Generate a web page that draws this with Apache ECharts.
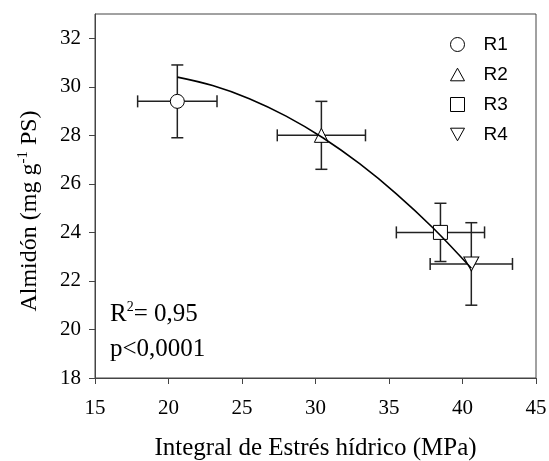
<!DOCTYPE html>
<html>
<head>
<meta charset="utf-8">
<script src="https://cdn.jsdelivr.net/npm/echarts@6/dist/echarts.min.js"></script>
<style>
    html, body { margin: 0; padding: 0; background: #fff; }
    #chart { width: 549px; height: 461px; }
</style>
</head>
<body>
<div id="chart"></div>
<script>
// 处理（R1-R4）的平均值与误差
var seriesNames = ['R1', 'R2', 'R3', 'R4'];
var stressX = [20.6, 30.4, 38.5, 40.6];   // Integral de Estrés hídrico (MPa)
var starchY = [29.4, 28.0, 24.0, 22.7];   // Almidón
var stressErr = [2.7, 3.0, 3.0, 2.8];
var starchErr = [1.5, 1.4, 1.2, 1.7];
var symbols = ['circle', 'triangle', 'rect', 'path://M0,0 L10,0 L5,9 Z'];
var legendIcons = ['path://M0,0 A5,5 0 1,1 0,0.01 Z', 'path://M5,0 L10,9 L0,9 Z', 'path://M0,0 L10,0 L10,10 L0,10 Z', 'path://M0,0 L10,0 L5,9 Z'];

// 拟合曲线
var fitX = [20.6, 23, 25.5, 28, 30.5, 33, 35.5, 38, 40.6];
var fitY = [30.40, 30.05, 29.51, 28.79, 27.90, 26.83, 25.59, 24.18, 22.52];

var xTicks = [15, 20, 25, 30, 35, 40, 45];
var yTicks = [18, 20, 22, 24, 26, 28, 30, 32];

var serif = 'Liberation Serif';
var sans = 'Liberation Sans';

var chart = echarts.init(document.getElementById('chart'));

// 误差棒
var errData = stressX.map(function (x, i) {
    return [x, starchY[i], stressErr[i], starchErr[i]];
});
var capHalf = 6;

var series = [{
    type: 'custom',
    name: 'err',
    z: 1,
    silent: true,
    data: errData,
    renderItem: function (params, api) {
        var x = api.value(0), y = api.value(1), ex = api.value(2), ey = api.value(3);
        var l = api.coord([x - ex, y]);
        var r = api.coord([x + ex, y]);
        var t = api.coord([x, y + ey]);
        var b = api.coord([x, y - ey]);
        var style = { stroke: '#222', lineWidth: 1.5 };
        return {
            type: 'group',
            children: [
                { type: 'line', shape: { x1: l[0], y1: l[1], x2: r[0], y2: r[1] }, style: style },
                { type: 'line', shape: { x1: l[0], y1: l[1] - capHalf, x2: l[0], y2: l[1] + capHalf }, style: style },
                { type: 'line', shape: { x1: r[0], y1: r[1] - capHalf, x2: r[0], y2: r[1] + capHalf }, style: style },
                { type: 'line', shape: { x1: t[0], y1: t[1], x2: b[0], y2: b[1] }, style: style },
                { type: 'line', shape: { x1: t[0] - capHalf, y1: t[1], x2: t[0] + capHalf, y2: t[1] }, style: style },
                { type: 'line', shape: { x1: b[0] - capHalf, y1: b[1], x2: b[0] + capHalf, y2: b[1] }, style: style }
            ]
        };
    }
}];

seriesNames.forEach(function (name, i) {
    series.push({
        type: 'scatter',
        name: name,
        z: 3,
        symbol: symbols[i],
        symbolSize: i === 3 ? [15, 14] : 14,
        itemStyle: { color: '#fff', borderColor: '#000', borderWidth: 1, opacity: 1 },
        data: [[stressX[i], starchY[i]]]
    });
});

series.push({
    type: 'line',
    name: 'fit',
    z: 4,
    smooth: 0.4,
    showSymbol: false,
    silent: true,
    lineStyle: { color: '#000', width: 1.6 },
    data: fitX.map(function (x, i) { return [x, fitY[i]]; })
});

var option = {
    animation: false,
    backgroundColor: '#fff',
    grid: {
        left: 95, top: 14, right: 13, bottom: 83,
        outerBoundsMode: 'none',
        show: true, borderColor: '#444', borderWidth: 1
    },
    legend: {
        data: seriesNames.map(function (n, i) {
            return { name: n, icon: legendIcons[i] };
        }),
        orient: 'vertical',
        left: 445,
        top: 30,
        itemWidth: 14,
        itemHeight: 14,
        itemGap: 11,
        itemStyle: { color: '#fff', borderColor: '#000', borderWidth: 1 },
        textStyle: { fontFamily: sans, fontSize: 19, color: '#000', padding: [0, 0, 0, 14] }
    },
    xAxis: {
        type: 'value',
        min: xTicks[0],
        max: xTicks[xTicks.length - 1],
        interval: 5,
        name: 'Integral de Estrés hídrico (MPa)',
        nameLocation: 'middle',
        nameGap: 58,
        nameTextStyle: { fontFamily: serif, fontSize: 25, color: '#000' },
        axisLine: { lineStyle: { color: '#444', width: 1 } },
        axisTick: { show: true, inside: false, length: 6, lineStyle: { color: '#444' } },
        axisLabel: { fontFamily: serif, fontSize: 21, color: '#000', margin: 20 },
        splitLine: { show: false }
    },
    yAxis: {
        type: 'value',
        min: yTicks[0],
        max: 33,
        interval: 2,
        name: '{a|Almidón (mg g}{sup|-1}{a| PS)}',
        nameLocation: 'middle',
        nameGap: 50,
        nameTextStyle: {
            color: '#000',
            padding: [0, 30, 0, 0],
            rich: {
                a: { fontFamily: serif, fontSize: 24, color: '#000', lineHeight: 30 },
                sup: { fontFamily: serif, fontSize: 15, color: '#000', lineHeight: 30, padding: [0, 0, 14, 0] }
            }
        },
        axisLine: { lineStyle: { color: '#444', width: 1 } },
        axisTick: { show: true, inside: false, length: 6, lineStyle: { color: '#444' } },
        axisLabel: { fontFamily: serif, fontSize: 21, color: '#000', margin: 14, showMaxLabel: false },
        splitLine: { show: false }
    },
    graphic: [{
        type: 'text',
        left: 110,
        top: 300,
        style: {
            text: '{a|R}{sup|2}{a|= 0,95}\n{a|p<0,0001}',
            rich: {
                a: { fontFamily: serif, fontSize: 25, fill: '#000', lineHeight: 35 },
                sup: { fontFamily: serif, fontSize: 14, fill: '#000', lineHeight: 35, padding: [0, 0, 14, 0] }
            }
        }
    }],
    series: series
};

chart.setOption(option);
</script>
</body>
</html>
